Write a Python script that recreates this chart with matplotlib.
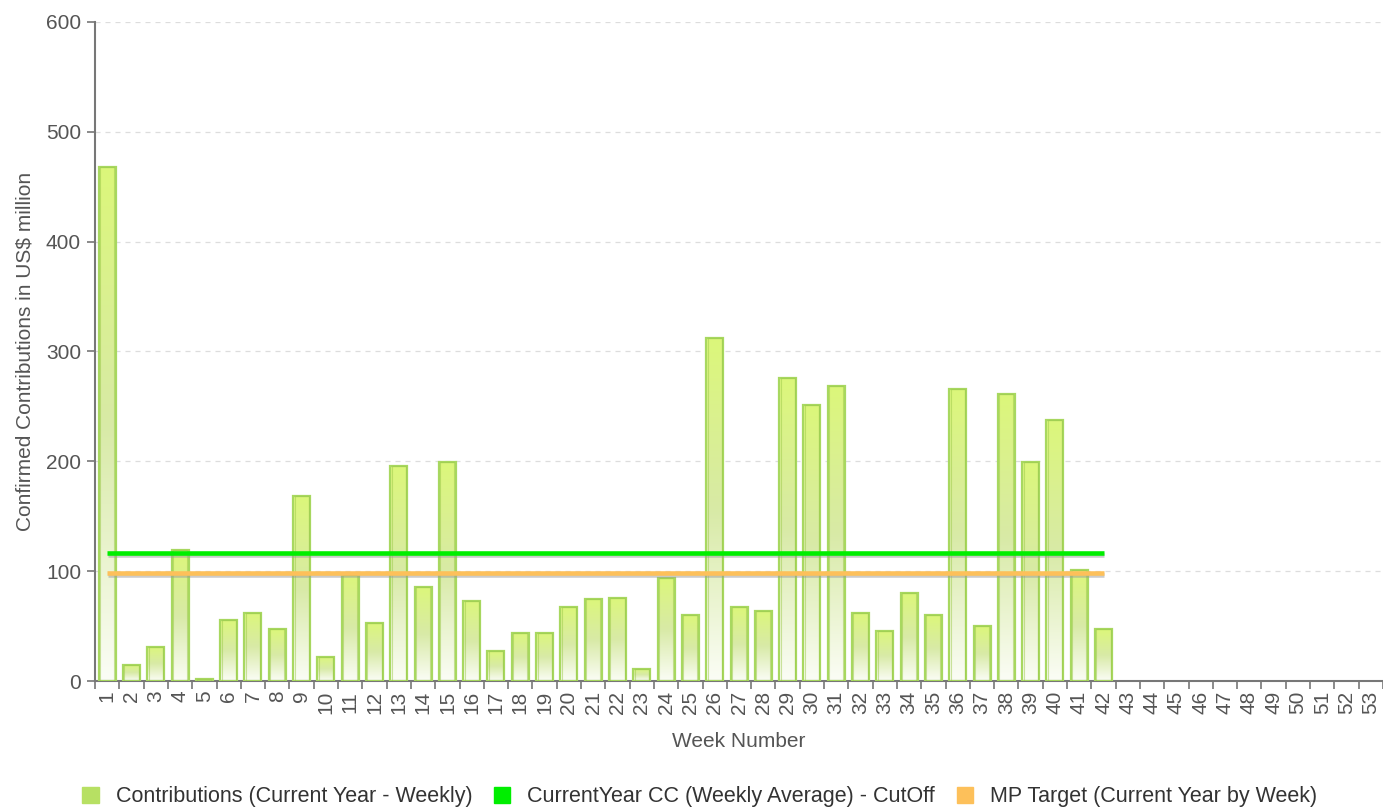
import matplotlib.pyplot as plt
import matplotlib.patheffects as pe
from matplotlib.patches import Patch
from matplotlib.colors import LinearSegmentedColormap
import numpy as np

# data
weeks = list(range(1, 54))
contrib = [468, 15, 31, 119, 2, 56, 62, 47, 168, 22,
           97, 53, 196, 86, 199, 73, 27, 44, 44, 67,
           75, 76, 11, 94, 60, 312, 67, 64, 276, 251,
           269, 62, 46, 80, 60, 266, 50, 261, 199, 238,
           101, 47]
cc_cutoff = 116.5
mp_target = 98.5
week_labels = [str(w) for w in weeks]

plt.rcParams['font.family'] = ['Liberation Sans', 'DejaVu Sans']
txt = '#555555'

fig = plt.figure(figsize=(13.83, 8.07), dpi=100)
ax = fig.add_axes([0.0687, 0.156, 0.9313, 0.817])

# gradient bars
bw = 0.7
grad = np.linspace(0, 1, 256).reshape(-1, 1)
cmap = LinearSegmentedColormap.from_list('g', ['#fbfdf6', '#d8eaa6', '#dcf77a'])
xs = np.arange(1, len(contrib) + 1)
bars = ax.bar(xs, contrib, width=bw, color='none', edgecolor='#a8d860',
              linewidth=1.6, zorder=3)
for b in bars:
    x0 = b.get_x()
    im = ax.imshow(grad, extent=[x0, x0 + b.get_width(), 0, b.get_height()],
                   origin='lower', cmap=cmap, aspect='auto', zorder=2)
    im.set_clip_path(b)
    # inner darker rim
    ax.bar(x0 + bw / 2, b.get_height(), width=bw - 0.12,
           color='none', edgecolor='#9cc94a', linewidth=0.8, alpha=0.5, zorder=3)

shadow = [pe.SimpleLineShadow(offset=(0.5, -1.2), shadow_color='#999999', alpha=0.5), pe.Normal()]
ax.plot([1, len(contrib)], [cc_cutoff, cc_cutoff], color='#00ee00', lw=3.3,
        solid_capstyle='butt', zorder=5, path_effects=shadow)
ax.plot([1, len(contrib)], [mp_target, mp_target], color='#fdc05a', lw=3.3,
        solid_capstyle='butt', zorder=5, path_effects=shadow)

ax.set_xlim(0.5, len(weeks) + 0.5)
ax.set_ylim(0, 600)
ax.set_yticks(range(0, 601, 100))
ax.grid(axis='y', linestyle=(0, (4, 4)), color='#dddddd', lw=0.9, zorder=0)
ax.set_axisbelow(True)

ax.set_xticks(weeks)
ax.set_xticklabels(week_labels, rotation=90, fontsize=15, color=txt)
ax.set_xticks(np.arange(0.5, len(weeks) + 1, 1), minor=True)
ax.tick_params(axis='x', which='major', length=0, pad=7)
ax.tick_params(axis='x', which='minor', length=6, color='#777777', width=1.2)
ax.tick_params(axis='y', length=6, color='#777777', width=1.2, labelsize=15,
               labelcolor=txt, pad=4)

for s in ['top', 'right']:
    ax.spines[s].set_visible(False)
for s in ['left', 'bottom']:
    ax.spines[s].set_color('#777777')
    ax.spines[s].set_linewidth(1.5)

ax.set_xlabel('Week Number', fontsize=15, color=txt, labelpad=13)
ax.set_ylabel('Confirmed Contributions in US$ million', fontsize=15, color=txt, labelpad=8)

handles = [Patch(color='#b7e063'), Patch(color='#00ee00'), Patch(color='#fdc05a')]
labels = ['Contributions (Current Year - Weekly)',
          'CurrentYear CC (Weekly Average) - CutOff',
          'MP Target (Current Year by Week)']
leg = fig.legend(handles, labels, loc='center', bbox_to_anchor=(0.506, 0.0124),
                 ncol=3, frameon=False, fontsize=15.5, handlelength=0.75,
                 handleheight=0.75, handletextpad=0.8, columnspacing=1.0)
for t in leg.get_texts():
    t.set_color('#333333')

fig.savefig('out.png', dpi=100)
